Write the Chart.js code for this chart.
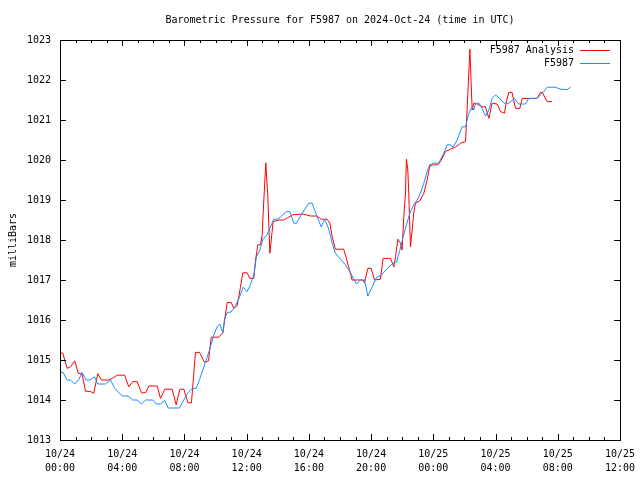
<!DOCTYPE html>
<html lang="en">
<head>
<meta charset="UTF-8">
<title>Barometric Pressure F5987</title>
<style>
    body { margin: 0; background: #fff; }
    #chart { display: block; }
</style>
</head>
<body>
<canvas id="chart" width="640" height="480"></canvas>
<script src="https://cdn.jsdelivr.net/npm/chart.js"></script>
<script>
    // hours since 2024-10-24 00:00 UTC, pressure in millibars
    const analysisHours = [0, 0.18, 0.46, 0.67, 0.95, 1.17, 1.42, 1.64, 1.96, 2.17, 2.43, 2.67, 3.14, 3.35, 3.68,
        4.15, 4.42, 4.68, 4.96, 5.24, 5.5, 5.71, 6.25, 6.46, 6.74, 7.21, 7.47, 7.7, 7.96, 8.22, 8.45, 8.71, 8.97,
        9.29, 9.55, 9.72, 10.21, 10.47, 10.64, 10.75, 11.0, 11.17, 11.39, 11.6, 11.75, 12.03, 12.2, 12.46, 12.57,
        12.72, 12.89, 13.0, 13.06, 13.23, 13.36, 13.49, 13.58, 13.7, 14.07, 14.39, 14.56, 14.96, 15.6, 16.1, 16.53,
        16.79, 17.17, 17.35, 17.5, 17.7, 18.24, 18.41, 18.56, 18.78, 19.48, 19.57, 19.79, 20.0, 20.22, 20.6, 20.77,
        21.25, 21.46, 21.57, 21.72, 21.89, 21.99, 22.1, 22.21, 22.27, 22.36, 22.42, 22.53, 22.64, 22.74, 22.85,
        23.13, 23.39, 23.6, 23.77, 24.0, 24.29, 24.46, 24.78, 25.1, 25.42, 25.75, 26.07, 26.18, 26.28, 26.35,
        26.43, 26.5, 26.6, 26.7, 26.92, 27.13, 27.35, 27.57, 27.78, 28.1, 28.32, 28.57, 28.7, 28.85, 29.06, 29.28,
        29.56, 29.71, 30.67, 30.88, 31.0, 31.32, 31.64];
    const analysisValues = [1015.17, 1015.17, 1014.79, 1014.83, 1014.98, 1014.67, 1014.65, 1014.22, 1014.21, 1014.17,
        1014.66, 1014.5, 1014.5, 1014.54, 1014.62, 1014.62, 1014.33, 1014.46, 1014.46, 1014.18, 1014.18, 1014.35,
        1014.35, 1014.04, 1014.27, 1014.27, 1013.88, 1014.27, 1014.27, 1013.93, 1013.93, 1015.19, 1015.19, 1014.94,
        1014.98, 1015.57, 1015.57, 1015.68, 1016.15, 1016.44, 1016.44, 1016.29, 1016.36, 1016.82, 1017.18, 1017.18,
        1017.04, 1017.04, 1017.5, 1017.88, 1017.88, 1018.13, 1018.67, 1019.93, 1019.08, 1017.67, 1018.0, 1018.46,
        1018.5, 1018.5, 1018.54, 1018.63, 1018.65, 1018.6, 1018.6, 1018.52, 1018.52, 1018.42, 1018.08, 1017.77,
        1017.77, 1017.54, 1017.32, 1017.0, 1017.0, 1016.93, 1017.29, 1017.29, 1017.0, 1017.02, 1017.54, 1017.54,
        1017.33, 1017.58, 1018.02, 1017.92, 1017.75, 1018.58, 1019.17, 1020.02, 1019.75, 1019.17, 1017.83, 1018.25,
        1018.67, 1018.92, 1018.98, 1019.17, 1019.5, 1019.85, 1019.88, 1019.88, 1019.96, 1020.21, 1020.27, 1020.32,
        1020.42, 1020.46, 1021.33, 1022.17, 1022.77, 1021.92, 1021.25, 1021.42, 1021.42, 1021.38, 1021.33, 1021.33,
        1021.04, 1021.42, 1021.4, 1021.21, 1021.17, 1021.46, 1021.69, 1021.69, 1021.29, 1021.29, 1021.54, 1021.54,
        1021.69, 1021.69, 1021.46, 1021.46];

    const stationHours = [0, 0.2, 0.46, 0.67, 0.95, 1.21, 1.42, 1.68, 1.92, 2.22, 2.43, 2.92, 3.25, 3.52, 4.0, 4.38,
        4.68, 4.96, 5.24, 5.5, 5.97, 6.2, 6.46, 6.74, 6.95, 7.68, 7.96, 8.24, 8.5, 8.75, 8.97, 9.29, 9.63, 9.89,
        10.1, 10.27, 10.47, 10.57, 10.75, 11.0, 11.28, 11.55, 11.77, 12.03, 12.24, 12.46, 12.63, 12.85, 13.06,
        13.27, 13.49, 13.74, 14.0, 14.17, 14.56, 14.77, 15.03, 15.2, 15.57, 16.0, 16.21, 16.53, 16.79, 17.02,
        17.28, 17.5, 17.7, 18.03, 18.35, 18.63, 18.89, 19.06, 19.32, 19.57, 19.79, 20.07, 20.35, 20.65, 21.03,
        21.36, 21.63, 21.85, 22.06, 22.27, 22.49, 22.74, 22.96, 23.17, 23.39, 23.6, 23.77, 24.0, 24.29, 24.4,
        24.67, 24.89, 25.1, 25.27, 25.53, 25.85, 26.07, 26.28, 26.5, 26.6, 26.7, 26.92, 27.13, 27.35, 27.57,
        27.78, 28.0, 28.26, 28.54, 28.85, 29.21, 29.49, 29.92, 30.14, 30.67, 31.1, 31.32, 31.85, 32.17, 32.6, 32.81];
    const stationValues = [1014.69, 1014.69, 1014.5, 1014.5, 1014.4, 1014.51, 1014.69, 1014.5, 1014.5, 1014.58,
        1014.4, 1014.4, 1014.5, 1014.29, 1014.1, 1014.1, 1014.0, 1014.0, 1013.9, 1014.0, 1014.0, 1013.9, 1013.9,
        1013.99, 1013.8, 1013.8, 1014.0, 1014.19, 1014.29, 1014.29, 1014.51, 1014.88, 1015.27, 1015.63, 1015.83,
        1015.9, 1015.68, 1016.0, 1016.19, 1016.2, 1016.36, 1016.58, 1016.82, 1016.71, 1016.88, 1017.13, 1017.58,
        1017.75, 1018.04, 1018.1, 1018.29, 1018.52, 1018.52, 1018.58, 1018.71, 1018.71, 1018.42, 1018.42, 1018.67,
        1018.92, 1018.92, 1018.58, 1018.33, 1018.52, 1018.27, 1017.92, 1017.67, 1017.52, 1017.38, 1017.21, 1017.02,
        1016.9, 1017.0, 1017.0, 1016.6, 1016.83, 1017.07, 1017.12, 1017.29, 1017.4, 1017.45, 1017.75, 1018.08,
        1018.38, 1018.67, 1018.88, 1019.0, 1019.17, 1019.42, 1019.71, 1019.88, 1019.92, 1019.92, 1019.96, 1020.17,
        1020.38, 1020.38, 1020.32, 1020.5, 1020.83, 1020.83, 1021.17, 1021.33, 1021.25, 1021.4, 1021.43, 1021.29,
        1021.1, 1021.25, 1021.54, 1021.63, 1021.54, 1021.42, 1021.42, 1021.54, 1021.4, 1021.4, 1021.54, 1021.54,
        1021.71, 1021.82, 1021.82, 1021.77, 1021.76, 1021.82];

    const xTickDates = ['10/24', '10/24', '10/24', '10/24', '10/24', '10/24', '10/25', '10/25', '10/25', '10/25'];
    const xTickTimes = ['00:00', '04:00', '08:00', '12:00', '16:00', '20:00', '00:00', '04:00', '08:00', '12:00'];
    const yTickValues = [1013, 1014, 1015, 1016, 1017, 1018, 1019, 1020, 1021, 1022, 1023];

    const toPoints = (hours, values) => hours.map((h, i) => ({ x: h, y: values[i] }));

    const mono = "'DejaVu Sans Mono', monospace";
    Chart.defaults.font.family = mono;
    Chart.defaults.font.size = 10;
    Chart.defaults.color = '#000';

    // gnuplot style frame, inward ticks, title and legend
    const framePlugin = {
        id: 'frame',
        afterDraw(chart) {
            const { ctx, chartArea: a, scales: { x, y } } = chart;
            ctx.save();
            ctx.strokeStyle = '#000';
            ctx.lineWidth = 1;
            ctx.strokeRect(a.left + 0.5, a.top + 0.5, a.right - a.left, a.bottom - a.top);
            ctx.beginPath();
            for (let h = 0; h <= 36; h++) {
                const px = Math.round(x.getPixelForValue(h)) + 0.5;
                const len = h % 4 === 0 ? 6 : 3;
                ctx.moveTo(px, a.bottom);
                ctx.lineTo(px, a.bottom - len);
                ctx.moveTo(px, a.top);
                ctx.lineTo(px, a.top + len);
            }
            yTickValues.forEach(v => {
                const py = Math.round(y.getPixelForValue(v)) + 0.5;
                ctx.moveTo(a.left, py);
                ctx.lineTo(a.left + 6, py);
                ctx.moveTo(a.right, py);
                ctx.lineTo(a.right - 6, py);
            });
            ctx.stroke();

            ctx.fillStyle = '#000';
            ctx.font = '10px ' + mono;
            ctx.textAlign = 'center';
            ctx.textBaseline = 'middle';
            ctx.fillText('Barometric Pressure for F5987 on 2024-Oct-24 (time in UTC)', (a.left + a.right) / 2, 20);

            // legend: text then line sample, right aligned
            ctx.textAlign = 'right';
            chart.data.datasets.forEach(ds => {
                const ly = 50 + ds.legendRow * 13;
                ctx.fillStyle = '#000';
                ctx.fillText(ds.label, 574, ly);
                ctx.strokeStyle = ds.borderColor;
                ctx.beginPath();
                ctx.moveTo(580, ly + 0.5);
                ctx.lineTo(610, ly + 0.5);
                ctx.stroke();
            });
            ctx.restore();
        }
    };

    new Chart(document.getElementById('chart'), {
        type: 'line',
        data: {
            datasets: [
                {
                    label: 'F5987',
                    data: toPoints(stationHours, stationValues),
                    borderColor: '#1a8cff',
                    borderWidth: 1,
                    pointRadius: 0,
                    tension: 0,
                    legendRow: 1,
                    order: 0
                },
                {
                    label: 'F5987 Analysis',
                    data: toPoints(analysisHours, analysisValues),
                    borderColor: '#ff0000',
                    borderWidth: 1,
                    pointRadius: 0,
                    tension: 0,
                    legendRow: 0,
                    order: 1
                }
            ]
        },
        options: {
            responsive: false,
            animation: false,
            layout: { padding: { top: 40, right: 20, left: 0, bottom: 0 } },
            plugins: {
                legend: { display: false },
                tooltip: { enabled: false }
            },
            scales: {
                x: {
                    type: 'linear',
                    min: 0,
                    max: 36,
                    grid: { display: false, drawTicks: false },
                    border: { display: false },
                    ticks: {
                        stepSize: 4,
                        padding: 8,
                        maxRotation: 0,
                        autoSkip: false,
                        font: { size: 10, lineHeight: 1.35 },
                        callback: v => [xTickDates[v / 4], xTickTimes[v / 4]]
                    },
                    afterFit: s => {
                        s.height = 40;
                        s.paddingLeft = 0;
                        s.paddingRight = 0;
                    }
                },
                y: {
                    min: yTickValues[0],
                    max: yTickValues[yTickValues.length - 1],
                    grid: { display: false, drawTicks: false },
                    border: { display: false },
                    ticks: { stepSize: 1, padding: 9, font: { size: 10 }, callback: v => String(v) },
                    title: { display: true, text: 'milliBars', font: { size: 10 }, padding: { top: 7, bottom: 0 } },
                    afterFit: s => {
                        s.width = 60;
                        s.paddingTop = 0;
                        s.paddingBottom = 0;
                    }
                }
            }
        },
        plugins: [framePlugin]
    });
</script>
</body>
</html>
